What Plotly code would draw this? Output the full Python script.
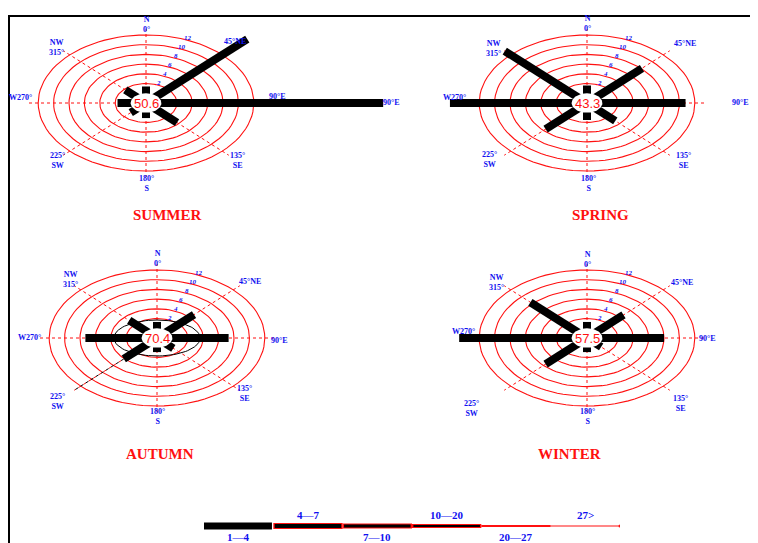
import numpy as np
import plotly.graph_objects as go

# ---------------- data ----------------
DIRS = [0, 45, 90, 135, 180, 225, 270, 315]          # N, NE, E, SE, S, SW, W, NW
SEASONS = ["SUMMER", "SPRING", "AUTUMN", "WINTER"]
CALM = ["50.6", "43.3", "70.4", "57.5"]
summer = [1.4, 16.6, 28.8, 3.7, 1.1, 0.8, 1.7, 1.8]
spring = [1.6, 8.1, 10.8, 3.2, 1.5, 5.6, 15.8, 13.1]
autumn = [1.3, 4.8, 7.3, 1.0, 0.9, 4.1, 7.3, 3.1]
winter = [1.3, 4.7, 8.0, 0.6, 0.9, 5.6, 14.6, 8.4]
VALUES = [summer, spring, autumn, winter]
RING_LABELS = [2, 4, 6, 8, 10, 12]
LEGEND_CLASSES = ["1—4", "4—7", "7—10", "10—20", "20—27", "27>"]

# ---------------- layout constants ----------------
W, H = 758, 543              # browser window
OFF = 8                      # default page margin of the html body
FW, FH = W - OFF, H - OFF    # figure size


def px(x):
    return (x - OFF) / FW


def py(y):
    return 1 - (y - OFF) / FH


SX, SY = 7.7, 4.86          # px per unit horizontally / vertically
R0 = 2.0                    # calm circle radius (units)
CENTERS = [(146, 103), (587, 103), (157, 338), (587, 338)]
BOXES = [(OFF, 420, OFF, 240), (400, W, OFF, 240), (OFF, 420, 240, 480), (400, W, 240, 480)]
TITLE_POS = [(167, 215), (600, 215), (160, 454), (569, 454)]
BLUE = "#1010f0"
RED = "#ff1010"

DIR_LABELS = [
    [("N<br>0°", 0, -79), ("NW<br>315°", -90, -56), ("45°NE", 89, -62), ("90°E", 131, -7),
     ("90°E", 245, -1), ("135°<br>SE", 91, 57), ("180°<br>S", 0, 80), ("225°<br>SW", -89, 57),
     ("W270°", -126, -6)],
    [("N<br>0°", 0, -80), ("NW<br>315°", -93, -55), ("45°NE", 98, -60), ("90°E", 153, -1),
     ("W270°", -132, -6), ("135°<br>SE", 96, 57), ("180°<br>S", 1, 80), ("225°<br>SW", -97, 56)],
    [("N<br>0°", 0, -80), ("NW<br>315°", -87, -59), ("45°NE", 93, -57), ("90°E", 122, 2),
     ("W270°", -128, -1), ("135°<br>SE", 87, 55), ("180°<br>S", 0, 78), ("225°<br>SW", -100, 63)],
    [("N<br>0°", 0, -79), ("NW<br>315°", -90, -56), ("45°NE", 95, -56), ("90°E", 120, 0),
     ("W270°", -123, -7), ("135°<br>SE", 93, 65), ("180°<br>S", 0, 78), ("225°<br>SW", -115, 70)],
]

fig = go.Figure()
annotations = []
layout_axes = {}

t = np.linspace(0, 2 * np.pi, 97)

for k in range(4):
    xa = "x" if k == 0 else f"x{k+1}"
    ya = "y" if k == 0 else f"y{k+1}"
    cx, cy = CENTERS[k]
    x0, x1, y0, y1 = BOXES[k]
    layout_axes["xaxis" if k == 0 else f"xaxis{k+1}"] = dict(
        domain=[px(x0), px(x1)], range=[(x0 - cx) / SX, (x1 - cx) / SX],
        visible=False, anchor=ya, fixedrange=True)
    layout_axes["yaxis" if k == 0 else f"yaxis{k+1}"] = dict(
        domain=[py(y1), py(y0)], range=[(cy - y1) / SY, (cy - y0) / SY],
        visible=False, anchor=xa, fixedrange=True)

    # rings
    rx, ry = [], []
    for r in RING_LABELS:
        rx += list((R0 + r) * np.sin(t)) + [None]
        ry += list((R0 + r) * np.cos(t)) + [None]
    fig.add_trace(go.Scatter(x=rx, y=ry, mode="lines", line=dict(color=RED, width=1.1),
                             xaxis=xa, yaxis=ya, hoverinfo="skip", showlegend=False))
    # dotted direction axes
    dx_, dy_ = [], []
    rmax = R0 + RING_LABELS[-1] + 1.2
    for d in DIRS:
        th = np.deg2rad(d)
        dx_ += [0, rmax * np.sin(th), None]
        dy_ += [0, rmax * np.cos(th), None]
    fig.add_trace(go.Scatter(x=dx_, y=dy_, mode="lines", line=dict(color=RED, width=1, dash="dot"),
                             xaxis=xa, yaxis=ya, hoverinfo="skip", showlegend=False))
    if k == 2:
        # black inner ellipse and dotted SW guide in autumn
        fig.add_trace(go.Scatter(x=list(5.6 * np.sin(t)), y=list(3.7 * np.cos(t)), mode="lines",
                                 line=dict(color="black", width=1), xaxis=xa, yaxis=ya,
                                 hoverinfo="skip", showlegend=False))
        th = np.deg2rad(225)
        fig.add_trace(go.Scatter(x=[(R0 + VALUES[k][5]) * np.sin(th), rmax * np.sin(th)],
                                 y=[(R0 + VALUES[k][5]) * np.cos(th), rmax * np.cos(th)],
                                 mode="lines", line=dict(color="black", width=1, dash="dot"),
                                 xaxis=xa, yaxis=ya, hoverinfo="skip", showlegend=False))
    # spokes
    sx, sy = [], []
    for d, v in zip(DIRS, VALUES[k]):
        th = np.deg2rad(d)
        sx += [0, (R0 + v) * np.sin(th), None]
        sy += [0, (R0 + v) * np.cos(th), None]
    fig.add_trace(go.Scatter(x=sx, y=sy, mode="lines", line=dict(color="black", width=8),
                             xaxis=xa, yaxis=ya, hoverinfo="skip", showlegend=False))
    # calm circle
    fig.add_trace(go.Scatter(x=list(R0 * np.sin(t)), y=list(R0 * np.cos(t)), mode="lines",
                             fill="toself", fillcolor="white", line=dict(color="white", width=0),
                             xaxis=xa, yaxis=ya, hoverinfo="skip", showlegend=False))
    annotations.append(dict(x=0, y=0, xref=xa, yref=ya, text=CALM[k], showarrow=False,
                            xanchor="center", yanchor="middle",
                            font=dict(family="Liberation Sans", size=13, color=RED)))
    # ring labels
    ang = np.deg2rad(22)
    for r in RING_LABELS:
        annotations.append(dict(x=(R0 + r + 0.4) * np.sin(ang), y=(R0 + r + 0.4) * np.cos(ang),
                                xref=xa, yref=ya, text=f"<b><i>{r}</i></b>", showarrow=False,
                                xanchor="center", yanchor="middle",
                                font=dict(family="Liberation Serif", size=7, color=BLUE)))
    # direction labels
    for txt, ddx, ddy in DIR_LABELS[k]:
        annotations.append(dict(x=ddx / SX, y=-ddy / SY, xref=xa, yref=ya, text=f"<b>{txt}</b>",
                                showarrow=False, xanchor="center", yanchor="middle",
                                font=dict(family="Liberation Serif", size=8, color=BLUE)))
    # season title
    tx, ty = TITLE_POS[k]
    annotations.append(dict(x=px(tx), y=py(ty), xref="paper", yref="paper",
                            xanchor="center", yanchor="middle",
                            text=f"<b>{SEASONS[k]}</b>", showarrow=False,
                            font=dict(family="Liberation Serif", size=15, color=RED)))

# ---------------- legend bar ----------------
LEG_RED_W = [0, 6, 5, 4, 2, 1.2]
LEG_BLACK_W = [7, 4, 3, 2, 0, 0]
layout_axes["xaxis5"] = dict(domain=[px(204), px(620)], range=[0, len(LEGEND_CLASSES)],
                             visible=False, anchor="y5", fixedrange=True)
layout_axes["yaxis5"] = dict(domain=[py(540), py(512)], range=[-1, 1],
                             visible=False, anchor="x5", fixedrange=True)
for i, lab in enumerate(LEGEND_CLASSES):
    if LEG_RED_W[i] > 0:
        fig.add_trace(go.Scatter(x=[i, i + 1], y=[0, 0], mode="lines",
                                 line=dict(color=RED, width=LEG_RED_W[i]),
                                 xaxis="x5", yaxis="y5", hoverinfo="skip", showlegend=False))
    if LEG_BLACK_W[i] > 0:
        fig.add_trace(go.Scatter(x=[i + (0.0 if i == 0 else 0.02), i + 1 - 0.02], y=[0, 0], mode="lines",
                                 line=dict(color="black", width=LEG_BLACK_W[i]),
                                 xaxis="x5", yaxis="y5", hoverinfo="skip", showlegend=False))
    annotations.append(dict(x=i + 0.5, y=0, xref="x5", yref="y5", text=f"<b>{lab}</b>",
                            showarrow=False, yshift=(11 if i % 2 else -11),
                            xanchor="center", yanchor="middle",
                            font=dict(family="Liberation Serif", size=11, color=BLUE)))
fig.add_trace(go.Scatter(x=[len(LEGEND_CLASSES)], y=[0], mode="markers",
                         marker=dict(color=RED, size=3), xaxis="x5", yaxis="y5",
                         hoverinfo="skip", showlegend=False))

fig.update_layout(
    width=FW, height=FH, margin=dict(l=0, r=0, t=0, b=0),
    paper_bgcolor="white", plot_bgcolor="rgba(0,0,0,0)",
    annotations=annotations, showlegend=False,
    shapes=[
        dict(type="line", xref="paper", yref="paper", x0=px(8), x1=1, y0=py(16), y1=py(16),
             line=dict(color="black", width=2)),
        dict(type="line", xref="paper", yref="paper", x0=px(9), x1=px(9), y0=0, y1=py(16),
             line=dict(color="black", width=2)),
    ],
    **layout_axes,
)
fig.write_html("out.html")
